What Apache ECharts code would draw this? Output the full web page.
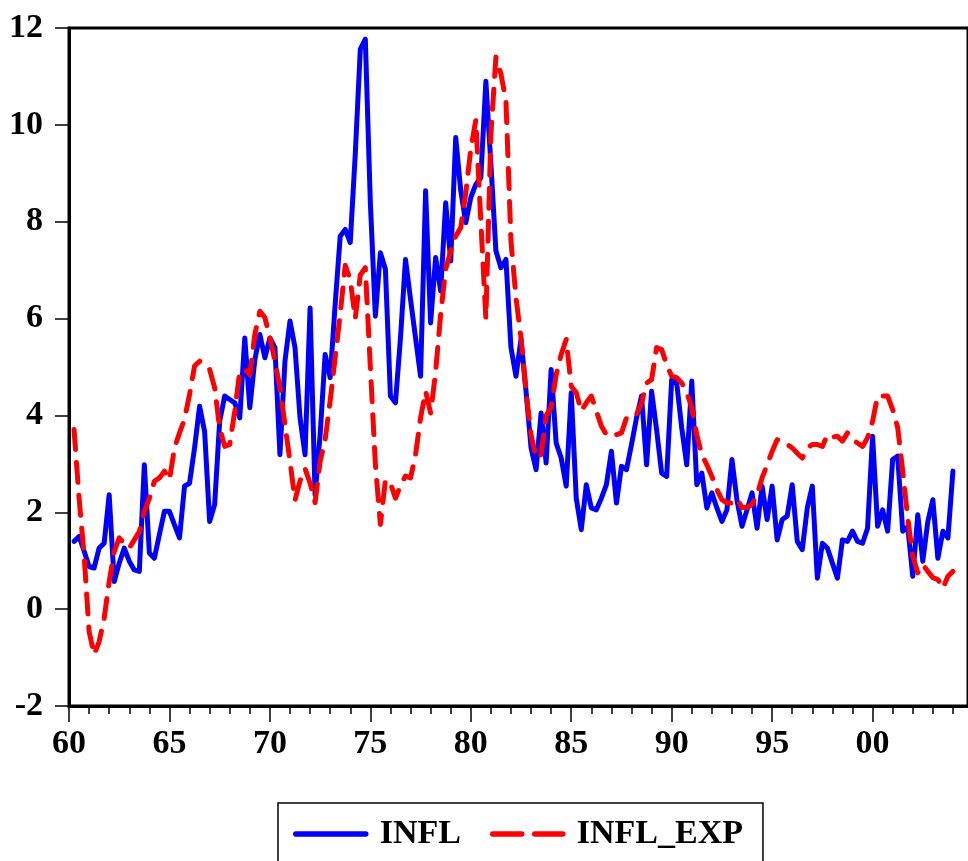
<!DOCTYPE html>
<html>
<head>
<meta charset="utf-8">
<script src="https://cdn.jsdelivr.net/npm/echarts@6/dist/echarts.min.js"></script>
<style>
html,body{margin:0;padding:0;background:#fff;}
#chart{width:968px;height:861px;}
</style>
</head>
<body>
<div id="chart"></div>
<script>
// Quarterly categories 1960Q1 .. 2004Q4
const startYear = 1960, endYear = 2004;
const quarters = [];
for (let y = startYear; y <= endYear; y++) for (let q = 1; q <= 4; q++) quarters.push(y + 'Q' + q);

// Data start at 1960Q2 and end at 2004Q1
const firstQuarter = '1960Q2';

const infl = [
  1.40, 1.50, 1.20, 0.88, 0.85, 1.26, 1.36, 2.36, 0.57, 0.95,
  1.26, 0.99, 0.81, 0.78, 2.98, 1.16, 1.05, 1.54, 2.02, 2.02,
  1.74, 1.47, 2.54, 2.60, 3.33, 4.19, 3.67, 1.81, 2.16, 3.88,
  4.40, 4.33, 4.26, 3.95, 5.60, 4.16, 5.15, 5.67, 5.19, 5.60,
  5.40, 3.19, 5.12, 5.95, 5.40, 3.95, 3.19, 6.22, 2.36, 3.60,
  5.26, 4.78, 6.30, 7.70, 7.84, 7.57, 9.40, 11.56, 11.77, 8.40,
  6.05, 7.36, 7.02, 4.40, 4.26, 5.60, 7.22, 6.40, 5.60, 4.81,
  8.64, 5.91, 7.26, 6.57, 8.39, 7.19, 9.74, 8.64, 7.98, 8.50,
  8.77, 8.91, 10.90, 9.20, 7.40, 7.05, 7.22, 5.40, 4.81, 5.57,
  4.50, 3.33, 2.88, 4.05, 3.02, 4.95, 3.43, 3.12, 2.54, 4.47,
  2.29, 1.64, 2.57, 2.09, 2.05, 2.29, 2.57, 3.26, 2.19, 2.95,
  2.88, 3.40, 3.95, 4.40, 2.98, 4.50, 3.70, 2.81, 2.74, 4.74,
  4.67, 3.74, 2.98, 4.71, 2.57, 2.81, 2.09, 2.40, 2.09, 1.81,
  2.05, 3.09, 2.25, 1.71, 2.05, 2.40, 1.67, 2.54, 1.85, 2.54,
  1.43, 1.85, 1.92, 2.57, 1.40, 1.23, 2.09, 2.54, 0.64, 1.36,
  1.26, 0.95, 0.64, 1.43, 1.40, 1.61, 1.40, 1.36, 1.67, 3.57,
  1.71, 2.05, 1.61, 3.09, 3.16, 1.61, 1.70, 0.68, 1.95, 0.99,
  1.81, 2.26, 1.05, 1.61, 1.47, 2.85
];

const inflExp = [
  3.71, 2.30, 1.12, -0.46, -0.94, -0.67, -0.19, 0.57, 1.19, 1.47,
  1.36, 1.26, 1.43, 1.60, 2.02, 2.29, 2.64, 2.71, 2.85, 2.67,
  3.33, 3.64, 3.92, 4.43, 5.02, 5.12, 5.05, 4.95, 4.57, 3.74,
  3.36, 3.40, 4.09, 4.91, 4.95, 4.84, 5.67, 6.15, 6.02, 5.60,
  5.12, 4.57, 3.81, 3.05, 2.25, 2.65, 2.90, 2.60, 2.20, 3.05,
  3.50, 4.30, 5.20, 6.10, 7.10, 6.80, 6.00, 6.90, 7.05, 5.00,
  3.00, 1.75, 2.67, 2.60, 2.29, 2.55, 2.75, 2.71, 3.19, 3.95,
  4.50, 4.05, 4.90, 6.09, 7.02, 7.40, 7.70, 7.88, 8.60, 9.50,
  10.10, 8.00, 6.00, 9.80, 11.40, 11.05, 10.50, 7.60, 6.43, 5.60,
  4.50, 3.60, 3.12, 3.19, 4.00, 4.16, 4.84, 5.26, 5.57, 4.60,
  4.47, 4.09, 4.26, 4.40, 4.09, 3.78, 3.60, 3.57, 3.60, 3.64,
  3.95, 4.02, 4.02, 4.26, 4.67, 4.74, 5.40, 5.36, 5.05, 4.81,
  4.78, 4.67, 4.47, 4.16, 3.60, 3.19, 2.98, 2.74, 2.47, 2.26,
  2.19, 2.19, 2.28, 2.10, 2.10, 2.16, 2.36, 2.71, 2.98, 3.26,
  3.50, 3.47, 3.40, 3.33, 3.22, 3.12, 3.33, 3.40, 3.40, 3.36,
  3.60, 3.55, 3.57, 3.47, 3.64, 3.50, 3.43, 3.36, 3.54, 3.88,
  4.40, 4.40, 4.40, 4.12, 3.75, 2.85, 1.88, 1.10, 0.75, 0.92,
  0.78, 0.65, 0.61, 0.43, 0.68, 0.78
];

const yTicks = [-2, 0, 2, 4, 6, 8, 10, 12];
const seriesNames = ['INFL', 'INFL_EXP'];

function align(values) {
  const off = quarters.indexOf(firstQuarter);
  const out = quarters.map(() => null);
  values.forEach((v, i) => { out[off + i] = v; });
  return out;
}

const FONT = 'Liberation Serif';
const chart = echarts.init(document.getElementById('chart'));
const gridW = (quarters.length - 1) * 5.045;

const baseX = {
  type: 'category',
  data: quarters,
  boundaryGap: false,
  position: 'bottom',
  axisLine: { show: true, onZero: false, lineStyle: { color: '#000', width: 3 } },
  splitLine: { show: false }
};

chart.setOption({
  animation: false,
  backgroundColor: '#fff',
  grid: {
    left: 69, top: 28, width: gridW, height: 678,
    show: true, borderColor: '#000', borderWidth: 3, backgroundColor: 'transparent'
  },
  legend: {
    data: [
      { name: seriesNames[0], lineStyle: { width: 5.5, cap: 'round' } },
      { name: seriesNames[1], lineStyle: { width: 5.5, cap: 'round', type: [29, 13] } }
    ],
    left: 278, top: 803,
    orient: 'horizontal',
    borderColor: '#000', borderWidth: 1.5,
    padding: [14, 20, 30, 15],
    itemWidth: 70, itemHeight: 14, itemGap: 29,
    itemStyle: { color: 'rgba(0,0,0,0)', borderWidth: 0, opacity: 0 },
    textStyle: { fontFamily: FONT, fontWeight: 'bold', fontSize: 34, color: '#000', padding: [0, 0, 0, 9] }
  },
  xAxis: [
    Object.assign({}, baseX, {
      axisTick: { show: true, inside: false, length: 8, interval: (i) => i % 4 === 0, lineStyle: { color: '#000', width: 1.5 } },
      axisLabel: { show: false }
    }),
    Object.assign({}, baseX, {
      axisTick: { show: true, inside: false, length: 16, interval: (i) => i % 20 === 0, lineStyle: { color: '#000', width: 1.5 } },
      axisLabel: {
        show: true, interval: (i) => i % 20 === 0, margin: 21,
        fontFamily: FONT, fontWeight: 'bold', fontSize: 34, color: '#000',
        formatter: (v) => v.slice(2, 4)
      }
    })
  ],
  yAxis: {
    type: 'value',
    min: yTicks[0], max: yTicks[yTicks.length - 1], interval: yTicks[1] - yTicks[0],
    axisLine: { show: true, lineStyle: { color: '#000', width: 3 } },
    axisTick: { show: true, inside: false, length: 14, lineStyle: { color: '#000', width: 1.5 } },
    splitLine: { show: false },
    axisLabel: { margin: 26, fontFamily: FONT, fontWeight: 'bold', fontSize: 34, color: '#000' }
  },
  series: [
    {
      name: seriesNames[0], type: 'line', xAxisIndex: 1, data: align(infl),
      symbol: 'none', showSymbol: false,
      lineStyle: { color: '#0000FF', width: 5, join: 'round', cap: 'round' },
      itemStyle: { color: '#0000FF' },
      z: 2
    },
    {
      name: seriesNames[1], type: 'line', xAxisIndex: 1, data: align(inflExp),
      symbol: 'none', showSymbol: false,
      lineStyle: { color: '#FF0000', width: 5, type: [20, 13], cap: 'round', join: 'round' },
      itemStyle: { color: '#FF0000' },
      z: 3
    }
  ]
});
</script>
</body>
</html>
